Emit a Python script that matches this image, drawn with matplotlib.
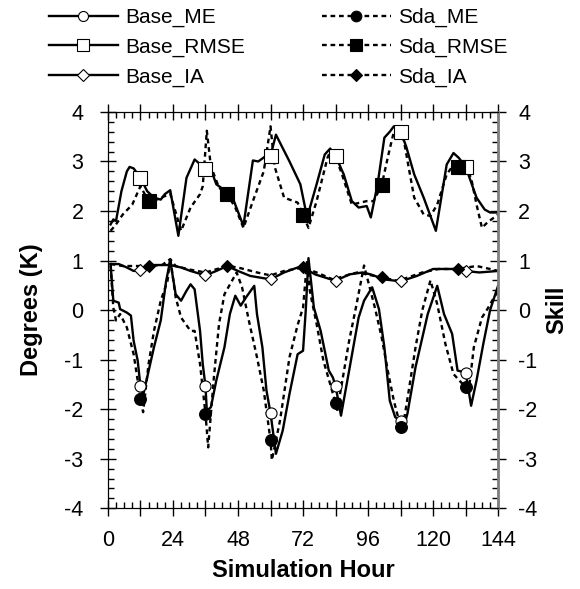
import matplotlib
matplotlib.use("Agg")
import matplotlib.pyplot as plt
from matplotlib.lines import Line2D
from matplotlib.ticker import MultipleLocator, FuncFormatter

plt.rcParams['font.family'] = ['Liberation Sans', 'DejaVu Sans']
plt.rcParams['axes.unicode_minus'] = False

# hour / value pairs
base_me_h = [1, 2, 4, 4.5, 7, 8.5, 9.5, 11, 12, 13, 17, 19.5, 21.5, 23, 25, 27, 29, 30.5, 32, 34, 35, 36,
             36.5, 38, 40, 43, 45, 47, 49, 51, 54, 55, 57, 58.5, 60, 62, 64.5, 67, 70, 72, 73, 74, 76, 78.5,
             81.5, 83, 84, 86, 89, 92.5, 94.5, 97.5, 100, 102, 104, 106, 108, 109, 110.5, 113.5, 118, 121.5,
             124, 127, 129, 132, 134, 136, 138.5, 141, 144]
base_me = [0.93, 0.19, 0.15, 0.02, -0.05, -0.11, -0.62, -1.02, -1.53, -1.72, -0.75, -0.21, 0.59, 1.0, 0.32,
           0.19, 0.39, 0.52, 0.42, -0.42, -1.09, -1.53, -2.03, -1.96, -1.42, -0.75, -0.08, 0.29, 0.09, 0.26,
           0.49, -0.08, -0.75, -1.62, -2.08, -2.9, -2.43, -1.69, -0.89, -0.82, 0.0, 1.05, 0.05, -0.42, -1.22,
           -1.36, -1.53, -2.13, -1.22, -0.15, 0.19, 0.46, 0.02, -0.75, -1.83, -2.16, -2.23, -2.4, -2.09,
           -1.15, -0.08, 0.49, -0.08, -0.48, -1.22, -1.26, -1.93, -1.42, -0.68, 0.0, 0.5]

sda_me_h = [1, 2, 3, 4.5, 7, 9.5, 11, 12, 13, 15, 17, 19.5, 22, 23, 25, 27, 30.5, 32, 34, 36, 37, 39, 41,
            43, 47.5, 49.5, 52, 55, 57.5, 60, 60.5, 63.5, 67, 70, 72, 73.5, 74.5, 77, 79.5, 82, 84, 84.5,
            86.5, 89, 91.5, 94.5, 98.5, 101, 103.5, 105.5, 108, 109, 111, 113.5, 116, 119, 121.5, 124.5,
            127.5, 132, 133, 135, 138, 140, 142.5, 144]
sda_me = [0.9, 0.05, -0.21, -0.08, -0.35, -0.89, -1.42, -1.79, -2.06, -1.09, -0.42, 0.19, 0.59, 1.05, 0.26,
          -0.15, -0.42, -0.42, -1.09, -2.09, -2.77, -1.42, -0.28, 0.32, 0.76, 0.46, -0.21, -0.95, -1.62,
          -2.63, -3.03, -2.23, -0.95, -0.3, 0.05, 1.0, 0.39, -0.28, -1.02, -1.49, -1.88, -2.06, -1.42, -0.62,
          0.05, 0.9, 0.05, -0.55, -1.29, -1.83, -2.36, -2.3, -1.62, -0.75, 0.0, 0.6, 0.12, -0.68, -1.29,
          -1.56, -1.69, -0.75, -0.15, 0.02, 0.26, 0.39]

base_rmse_h = [1, 2, 3, 5, 7, 8, 9.5, 12, 14.5, 17, 19.5, 21, 23, 26, 29, 32, 33.5, 36, 38, 40, 42.5, 46.5,
               50, 53.5, 55.5, 58, 60, 62, 67, 71, 73.5, 77, 80, 82, 84, 87, 90, 92.5, 95.5, 97, 99.5, 102,
               104, 105.5, 108, 110, 113, 116.5, 121, 125, 127.5, 129.5, 132, 136, 139, 141, 144]
base_rmse = [1.73, 1.83, 1.8, 2.4, 2.8, 2.89, 2.86, 2.67, 2.4, 2.27, 2.23, 2.34, 2.42, 1.5, 2.67, 3.04,
             2.97, 2.85, 2.84, 2.54, 2.44, 2.2, 1.7, 3.02, 3.0, 3.1, 3.12, 3.54, 3.0, 2.54, 1.87, 2.54, 3.14,
             3.26, 3.11, 2.74, 2.2, 2.07, 2.1, 1.87, 2.54, 3.48, 3.6, 3.71, 3.6, 3.31, 2.74, 2.27, 1.6, 2.94,
             3.17, 3.07, 2.89, 2.27, 2.03, 1.97, 1.97]

sda_rmse_h = [1, 3, 5.5, 9, 12, 15, 18, 21, 23, 27, 30.5, 34, 35, 36.5, 38, 41, 44, 47, 50, 53.5, 57.5,
              60, 61.5, 65, 70, 72, 74, 77, 81, 82, 84.5, 86, 90, 95.5, 98, 101, 103.5, 105.5, 109, 111,
              113, 116.5, 119, 121.5, 125, 128, 129, 131, 134, 136, 138, 140, 144]
sda_rmse = [1.6, 1.73, 1.93, 2.13, 2.5, 2.2, 2.23, 2.3, 2.35, 1.6, 2.07, 2.34, 2.5, 3.62, 2.9, 2.47, 2.34,
            2.07, 1.66, 2.2, 2.8, 3.71, 2.9, 2.27, 2.17, 1.92, 1.66, 2.2, 3.07, 3.2, 3.0, 2.8, 2.13, 2.2,
            2.2, 2.52, 3.14, 3.6, 3.48, 2.87, 2.27, 1.93, 1.9, 2.13, 2.74, 2.97, 2.89, 2.97, 2.67, 2.13,
            1.66, 1.77, 1.93]

base_ia_h = [1, 4, 7, 9.5, 12, 15, 18, 23, 27, 30.5, 36, 40, 44, 48, 52.5, 60, 65, 70, 72, 76.5, 84, 89,
             94, 97, 102, 108, 114, 120, 125, 129, 132, 137, 144]
base_ia = [0.93, 0.93, 0.86, 0.79, 0.81, 0.91, 0.91, 0.91, 0.86, 0.79, 0.7, 0.79, 0.89, 0.79, 0.69, 0.62,
           0.76, 0.86, 0.86, 0.72, 0.59, 0.72, 0.76, 0.72, 0.62, 0.58, 0.69, 0.83, 0.83, 0.83, 0.79, 0.76,
           0.79]

sda_ia_h = [1, 5.5, 15, 20, 23, 25, 30, 36, 44, 48, 55, 60, 65, 72, 77, 83, 92, 101, 107, 116, 122, 129,
            136, 141, 144]
sda_ia = [0.93, 0.89, 0.89, 0.91, 1.03, 0.89, 0.82, 0.76, 0.89, 0.86, 0.76, 0.7, 0.79, 0.86, 0.76, 0.62,
          0.76, 0.66, 0.59, 0.76, 0.83, 0.83, 0.89, 0.83, 0.79]

base_marks = [12, 36, 60, 84, 108, 132]
sda_marks = [15, 44, 72, 101, 129]

x_ticks = [0, 24, 48, 72, 96, 120, 144]

solid = '-'
dotted = (0, (2, 1.6))

series = [
    ("Base_ME", base_me_h, base_me, base_marks, solid, 'o', 'white', 8),
    ("Base_RMSE", base_rmse_h, base_rmse, base_marks, solid, 's', 'white', 9.5),
    ("Base_IA", base_ia_h, base_ia, base_marks, solid, 'D', 'white', 6.5),
    ("Sda_ME", sda_me_h, sda_me, base_marks, dotted, 'o', 'black', 8.5),
    ("Sda_RMSE", sda_rmse_h, sda_rmse, sda_marks, dotted, 's', 'black', 10),
    ("Sda_IA", sda_ia_h, sda_ia, sda_marks, dotted, 'D', 'black', 6.5),
]


def main():
    fig = plt.figure(figsize=(5.8, 5.89), dpi=100)
    ax = fig.add_axes([0.186, 0.137, 0.673, 0.673])

    handles = []
    for name, hrs, vals, marks, ls, mk, fc, ms in series:
        ax.plot(hrs, vals, color='black', lw=1.7, linestyle=ls, zorder=2)
        mx = [h for h in hrs if h in marks]
        my = [vals[hrs.index(h)] for h in mx]
        ax.plot(mx, my, linestyle='none', marker=mk, markersize=ms, markerfacecolor=fc,
                markeredgecolor='black', markeredgewidth=0.8, zorder=3)
        handles.append(Line2D([], [], color='black', lw=1.7, linestyle=ls, marker=mk,
                              markersize=ms * 0.9, markerfacecolor=fc, markeredgecolor='black',
                              markeredgewidth=0.8, label=name))

    ax.set_xlim(0, 144)
    ax.set_ylim(-4, 4)
    ax.xaxis.set_major_locator(MultipleLocator(12))
    ax.xaxis.set_minor_locator(MultipleLocator(3))
    ax.xaxis.set_major_formatter(FuncFormatter(lambda v, p: f"{int(v)}" if int(v) in x_ticks else ""))
    ax.yaxis.set_major_locator(MultipleLocator(1))
    ax.yaxis.set_minor_locator(MultipleLocator(0.2))
    ax.tick_params(which='major', direction='inout', length=11, width=1.0, labelsize=15.5,
                   top=True, right=False)
    ax.tick_params(axis='x', which='major', pad=10)
    ax.tick_params(axis='y', which='major', pad=12)
    ax.tick_params(which='minor', direction='in', length=4, width=1.0, top=True, right=False)
    ax.set_xlabel("Simulation Hour", fontsize=17, fontweight='bold', labelpad=6)
    ax.set_ylabel("Degrees (K)", fontsize=17, fontweight='bold')
    ax.yaxis.set_label_coords(-0.165, 0.5)

    ax2 = ax.twinx()
    ax2.set_ylim(-4, 4)
    ax2.yaxis.set_major_locator(MultipleLocator(1))
    ax2.yaxis.set_minor_locator(MultipleLocator(0.2))
    ax2.tick_params(which='major', direction='inout', length=11, width=1.0, labelsize=15.5, pad=9)
    ax2.tick_params(which='minor', direction='in', length=4, width=1.0)
    ax2.set_ylabel("Skill", fontsize=17, fontweight='bold')
    ax2.yaxis.set_label_coords(1.12, 0.5)
    ax2.spines['right'].set_color('#7f7f7f')
    ax2.spines['right'].set_linewidth(2)

    fig.legend(handles=handles, loc='upper left', bbox_to_anchor=(49 / 580, 1 - 8 / 589),
               ncol=2, frameon=False, fontsize=15, handlelength=3.3, handletextpad=0.35,
               columnspacing=3.7, labelspacing=0.5, borderpad=0, borderaxespad=0)

    fig.savefig("out.png", dpi=100)


if __name__ == '__main__':
    main()
